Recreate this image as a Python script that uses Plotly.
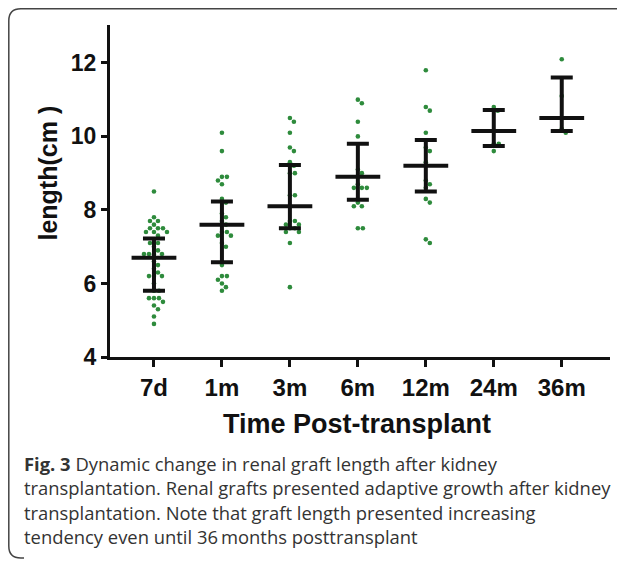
import numpy as np
import plotly.graph_objects as go

categories = ['7d', '1m', '3m', '6m', '12m', '24m', '36m']

# central line and whisker ends
center = [6.7, 7.6, 8.1, 8.9, 9.2, 10.15, 10.5]
upper = [7.22, 8.23, 9.22, 9.8, 9.9, 10.72, 11.6]
lower = [5.8, 6.58, 7.5, 8.28, 8.5, 9.74, 10.15]

# individual graft lengths (cm)
d7 = [8.5, 7.8, 7.7, 7.7, 7.6, 7.5, 7.5, 7.5, 7.4, 7.4, 7.4, 7.3, 7.2, 7.1, 7.1,
      7.0, 6.9, 6.8, 6.8, 6.8, 6.8, 6.6, 6.5, 6.4, 6.3, 6.2, 6.2, 6.2, 6.0,
      5.8, 5.8, 5.6, 5.6, 5.6, 5.5, 5.4, 5.3, 5.1, 4.9]
m1 = [10.1, 9.6, 8.9, 8.9, 8.8, 8.7, 8.3, 8.2, 7.9, 7.8, 7.7, 7.6, 7.4, 7.4,
      7.3, 7.3, 7.1, 7.0, 6.5, 6.2, 6.2, 6.1, 6.0, 5.9, 5.8]
m3 = [10.5, 10.4, 10.1, 9.7, 9.6, 9.3, 9.2, 9.0, 9.0, 8.4, 8.4, 8.1, 7.7, 7.7,
      7.6, 7.6, 7.5, 7.5, 7.4, 7.4, 7.1, 5.9]
m6 = [11.0, 10.9, 10.4, 10.0, 9.1, 9.0, 8.7, 8.6, 8.6, 8.6, 8.2, 8.1, 8.1, 7.5, 7.5]
m12 = [11.8, 10.8, 10.7, 10.1, 9.7, 9.6, 9.3, 8.8, 8.7, 8.6, 8.3, 8.2, 7.2, 7.1]
m24 = [10.8, 10.7, 9.8, 9.8, 9.6]
m36 = [12.1, 11.1, 10.2, 10.1]
groups = [d7, m1, m3, m6, m12, m24, m36]

y_ticks = [4, 6, 8, 10, 12]
x_title = 'Time Post-transplant'
y_title = 'length(cm )'
caption_lines = [
    '<b>Fig. 3</b> Dynamic change in renal graft length after kidney',
    'transplantation. Renal grafts presented adaptive growth after kidney',
    'transplantation. Note that graft length presented increasing',
    'tendency even until 36\u2009months posttransplant',
]

# figure geometry (page has an 8px body margin, so work in shifted pixels)
OFF = 8
W, H = 625 - OFF, 563 - OFF
L, R, T, B = 110 - OFF, 15, 25 - OFF, 206
X_RANGE = [-0.647, 6.71]
Y_RANGE = [4, 13.03]
PW, PH = W - L - R, H - T - B
px_x = PW / (X_RANGE[1] - X_RANGE[0])
px_y = PH / (Y_RANGE[1] - Y_RANGE[0])


def to_paper(xpx, ypx):
    """Reference-image pixel -> paper coords."""
    return (xpx - OFF - L) / PW, 1 - (ypx - OFF - T) / PH


def swarm(values, diam=5.0):
    """Simple beeswarm: offsets (in x data units) avoiding overlaps."""
    placed = []
    offs = np.zeros(len(values))
    order = np.argsort(values)[::-1]
    cands = [0.0]
    for k in range(1, 40):
        cands += [k * 1.0, -k * 1.0]
    for i in order:
        yv = values[i] * px_y
        for c in cands:
            ok = True
            for (px, py) in placed:
                if (px - c) ** 2 + (py - yv) ** 2 < diam ** 2 * 0.98:
                    ok = False
                    break
            if ok:
                placed.append((c, yv))
                offs[i] = c / px_x
                break
    return offs


fig = go.Figure()
green = '#2e8b3c'
for i, vals in enumerate(groups):
    off = swarm(vals)
    fig.add_trace(go.Scatter(
        x=[i + o for o in off], y=vals, mode='markers',
        marker=dict(size=4.6, color=green), hoverinfo='y', showlegend=False))

fig.add_trace(go.Scatter(
    x=list(range(len(categories))), y=center, mode='markers',
    marker=dict(symbol='line-ew', size=32, line=dict(width=4, color='#111111')),
    error_y=dict(type='data', symmetric=False,
                 array=[u - c for u, c in zip(upper, center)],
                 arrayminus=[c - l for c, l in zip(center, lower)],
                 thickness=4, width=11, color='#111111'),
    showlegend=False))

axis_font = dict(family='Liberation Sans, Arial, sans-serif', color='#111111', weight='bold')
fig.update_xaxes(range=X_RANGE, tickvals=list(range(len(categories))), ticktext=categories,
                 showline=True, linewidth=3, linecolor='#111111', ticks='outside',
                 ticklen=7, tickwidth=3, tickcolor='#111111', showgrid=False, zeroline=False,
                 tickfont=dict(size=24, **axis_font), ticklabelstandoff=0)
fig.update_yaxes(range=Y_RANGE, tickvals=y_ticks, showline=True, linewidth=3,
                 linecolor='#111111', ticks='outside', ticklen=6, tickwidth=3,
                 tickcolor='#111111', showgrid=False, zeroline=False,
                 tickfont=dict(size=23, **axis_font))

ann = []
xp, yp = to_paper(357, 424)
ann.append(dict(text=x_title, x=xp, y=yp, xref='paper', yref='paper', showarrow=False,
                font=dict(size=27, **axis_font), xanchor='center', yanchor='middle'))
xp, yp = to_paper(47, 173.5)
ann.append(dict(text=y_title, x=xp, y=yp, xref='paper', yref='paper',
                showarrow=False, textangle=-90,
                font=dict(size=25, **axis_font), xanchor='center', yanchor='middle'))
for k, line in enumerate(caption_lines):
    xp, yp = to_paper(22, 463 + k * 24.6)
    ann.append(dict(text=line, x=xp, y=yp, xref='paper', yref='paper', showarrow=False,
                    xanchor='left', yanchor='middle',
                    font=dict(family='Open Sans, Noto Sans, sans-serif', size=18.4,
                              color='#333333')))

# frame of the cropped figure: top edge, left edge and the bottom-left corner
x0, y0 = to_paper(8.8, 8.8)
x1, _ = to_paper(720, 8.8)
_, y1 = to_paper(8.8, 558)
xe, _ = to_paper(24, 558)
rx = 12 / PW
ry = 12 / PH
path = (f'M {x1},{y0} L {x0 + rx},{y0} Q {x0},{y0} {x0},{y0 - ry} '
        f'L {x0},{y1 + ry} Q {x0},{y1} {x0 + rx},{y1} L {xe},{y1}')
fig.add_shape(type='path', path=path, xref='paper', yref='paper',
              line=dict(color='#444444', width=1.5), fillcolor='rgba(0,0,0,0)',
              layer='below')

fig.update_layout(width=W, height=H, margin=dict(l=L, r=R, t=T, b=B),
                  plot_bgcolor='white', paper_bgcolor='white', annotations=ann)

fig.write_html('out.html')
